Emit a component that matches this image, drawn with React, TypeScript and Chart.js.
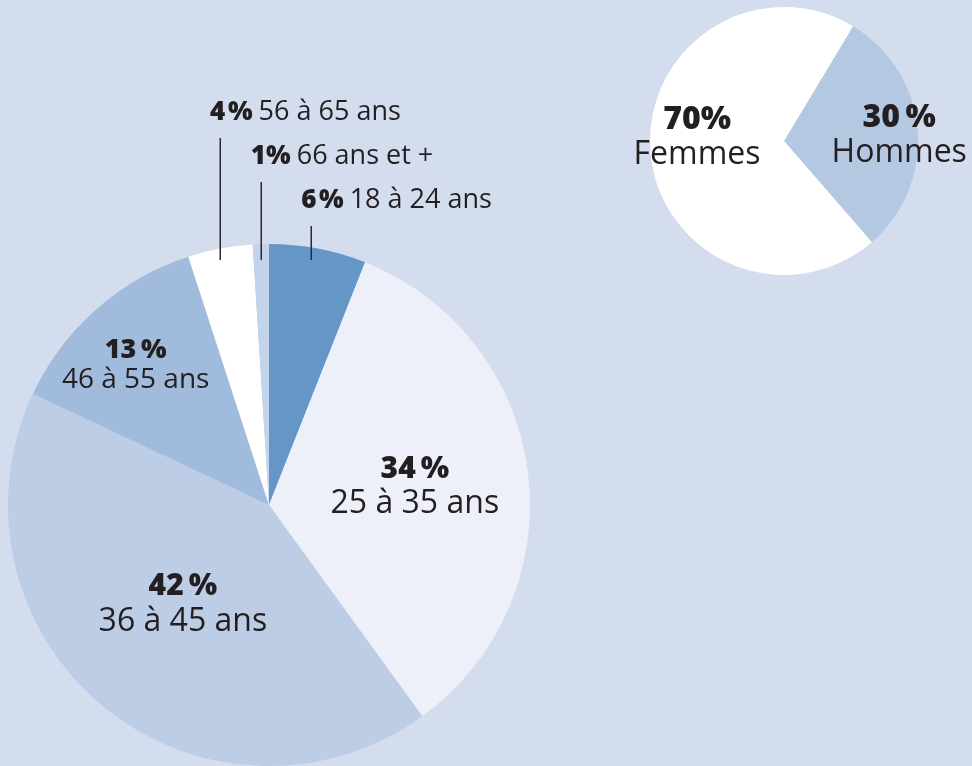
import React, { useEffect, useRef } from "react";
import { Chart, registerables } from "chart.js";

Chart.register(...registerables);

// ---- data ----
const ageCategories = ["18 à 24 ans", "25 à 35 ans", "36 à 45 ans", "46 à 55 ans", "56 à 65 ans", "66 ans et +"];
const ageValues = [6, 34, 42, 13, 4, 1];
const agePctLabels = ["6\u200A%", "34\u2009%", "42\u2009%", "13\u2009%", "4\u200A%", "1%"];
const genderCategories = ["Hommes", "Femmes"];
const genderValues = [30, 70];
const genderPctLabels = ["30\u2009%", "70%"];

// ---- styles ----
const BG = "#d3ddee";
const ageColors = ["#6496c8", "#edf0f8", "#bdcde6", "#a0bbdc", "#ffffff", "#c3d3ea"];
const genderColors = ["#b4c8e2", "#ffffff"];
const TEXT = "#231f20";
const BOLD_FONT = "'Open Sans'";
const BOLD_WEIGHT = 800;
const REG_FONT = "'Open Sans'";

type Inside = { kind: "in"; f: number; da: number; boldSize: number; regSize: number; gap: number };
type Outside = { kind: "out"; tier: number; da: number; size: number };
const ageLayout: (Inside | Outside)[] = [
  { kind: "out", tier: 0, da: -1.5, size: 27 },
  { kind: "in", f: 0.56, da: 3.5, boldSize: 30, regSize: 32, gap: 35 },
  { kind: "in", f: 0.53, da: -1.1, boldSize: 30, regSize: 32, gap: 36 },
  { kind: "in", f: 0.72, da: -3.8, boldSize: 27, regSize: 28, gap: 30 },
  { kind: "out", tier: 2, da: 0, size: 27 },
  { kind: "out", tier: 1, da: 0, size: 27 },
];
const genderLayout: Inside[] = [
  { kind: "in", f: 0.86, da: 6.7, boldSize: 32, regSize: 32, gap: 35 },
  { kind: "in", f: 0.65, da: 1.5, boldSize: 32, regSize: 32, gap: 35 },
];

function makeLabelPlugin(pcts: string[], names: string[], layout: (Inside | Outside)[]) {
  return {
    id: "sliceLabels",
    afterDatasetsDraw(chart: any) {
      const ctx = chart.ctx as CanvasRenderingContext2D;
      const meta = chart.getDatasetMeta(0);
      ctx.save();
      ctx.fillStyle = TEXT;
      ctx.strokeStyle = "#2a2a2e";
      meta.data.forEach((arc: any, i: number) => {
        const { x, y, startAngle, endAngle, outerRadius } = arc.getProps(
          ["x", "y", "startAngle", "endAngle", "outerRadius"],
          true
        );
        const L = layout[i];
        const mid = (startAngle + endAngle) / 2 + (L.da * Math.PI) / 180;
        if (L.kind === "in") {
          const ax = x + Math.cos(mid) * outerRadius * L.f;
          const ay = y + Math.sin(mid) * outerRadius * L.f;
          ctx.textAlign = "center";
          ctx.textBaseline = "alphabetic";
          ctx.font = `${BOLD_WEIGHT} ${L.boldSize}px ${BOLD_FONT}`;
          ctx.fillText(pcts[i], ax, ay - L.gap / 2);
          ctx.font = `400 ${L.regSize}px ${REG_FONT}`;
          ctx.fillText(names[i], ax, ay + L.gap / 2);
        } else {
          const lx = x + Math.cos(mid) * outerRadius;
          const bottom = y - outerRadius + 16;
          const baseline = bottom - 52 - 44 * L.tier;
          const top = baseline + 18;
          ctx.lineWidth = 1.5;
          ctx.beginPath();
          ctx.moveTo(Math.round(lx) + 0.25, top);
          ctx.lineTo(Math.round(lx) + 0.25, bottom);
          ctx.stroke();
          ctx.textAlign = "left";
          ctx.textBaseline = "alphabetic";
          const tx = lx - 10;
          ctx.font = `${BOLD_WEIGHT} ${L.size - 1}px ${BOLD_FONT}`;
          ctx.fillText(pcts[i], tx, baseline);
          const w = ctx.measureText(pcts[i]).width;
          ctx.font = `400 ${L.size}px ${REG_FONT}`;
          ctx.fillText(names[i], tx + w + 6, baseline);
        }
      });
      ctx.restore();
    },
  };
}

function PieCanvas(props: {
  labels: string[];
  values: number[];
  colors: string[];
  rotation: number;
  padding: { left: number; top: number; right: number; bottom: number };
  plugin: any;
}) {
  const ref = useRef<HTMLCanvasElement | null>(null);
  useEffect(() => {
    if (!ref.current) return;
    const chart = new Chart(ref.current, {
      type: "pie",
      data: {
        labels: props.labels,
        datasets: [
          {
            data: props.values,
            backgroundColor: props.colors,
            borderWidth: 0,
          },
        ],
      },
      options: {
        animation: false,
        responsive: false,
        rotation: props.rotation,
        layout: { padding: props.padding },
        plugins: { legend: { display: false }, tooltip: { enabled: false } },
        events: [],
      },
      plugins: [props.plugin],
    });
    return () => chart.destroy();
  }, []);
  return (
    <canvas
      ref={ref}
      width={972}
      height={766}
      style={{ position: "absolute", left: 0, top: 0, width: 972, height: 766 }}
    />
  );
}

export default function App() {
  return (
    <div
      style={{
        position: "fixed",
        left: 0,
        top: 0,
        width: 972,
        height: 766,
        background: BG,
        overflow: "hidden",
      }}
    >
      <PieCanvas
        labels={ageCategories}
        values={ageValues}
        colors={ageColors}
        rotation={0}
        padding={{ left: 8, top: 244, right: 442, bottom: 0 }}
        plugin={makeLabelPlugin(agePctLabels, ageCategories, ageLayout)}
      />
      <PieCanvas
        labels={genderCategories}
        values={genderValues}
        colors={genderColors}
        rotation={31}
        padding={{ left: 650, top: 7, right: 54, bottom: 491 }}
        plugin={makeLabelPlugin(genderPctLabels, genderCategories, genderLayout)}
      />
    </div>
  );
}
